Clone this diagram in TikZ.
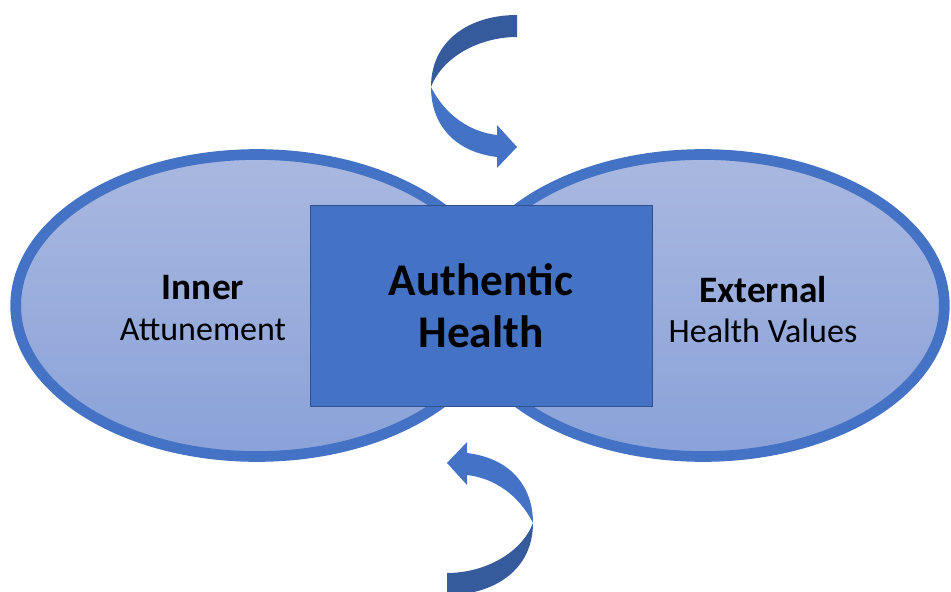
\documentclass[tikz,border=0pt]{standalone}
\usepackage{fontspec}
\setmainfont{Carlito}
\usetikzlibrary{shapes.geometric}
\definecolor{accent}{HTML}{4472C4}
\definecolor{accentdark}{HTML}{365B9D}
\definecolor{coreline}{HTML}{2F528F}
\definecolor{lobetop}{HTML}{A9B8E0}
\definecolor{lobebot}{HTML}{8AA2D9}
\begin{document}
\begin{tikzpicture}[x=0.75pt,y=-0.75pt]
\tikzset{lobe/.style={ellipse, draw=accent, line width=8pt, top color=lobetop, bottom color=lobebot, minimum width=362pt, minimum height=226.5pt, inner sep=0pt},
  core/.style={rectangle, draw=coreline, line width=0.75pt, fill=accent, minimum width=256.5pt, minimum height=150.75pt, align=center, font=\bfseries\fontsize{34}{39}\selectfont},
  title/.style={anchor=base, font=\bfseries\fontsize{28}{33}\selectfont},
  sub/.style={anchor=base, font=\fontsize{25.5}{30}\selectfont},
  turnarrow/.pic={
    \fill[accentdark] (431,87) .. controls (431,40) and (470,15) .. (517,15) -- (517,37) .. controls (478,37) and (442,58) .. (431,87) -- cycle;
    \fill[accent] (431,87) .. controls (445,115) and (470,132) .. (497,135) -- (497,125) -- (517,147) -- (497,168) -- (497,157) .. controls (455,152) and (431,125) .. (431,87) -- cycle;
  }}
\useasboundingbox (0,0) rectangle (951,592);
\node[lobe] (L) at (257,305.5) {};
\node[lobe] (R) at (703,305.5) {};
\node[core] (C) at (481,306) {Authentic\\Health};
\node[title] (In) at (203,299) {Inner};
\node[sub] (At) at (203,340) {Attunement};
\node[title] (Ex) at (763,302) {External};
\node[sub] (Hv) at (763,342) {Health Values};
\pic at (0,0) {turnarrow};
\pic[rotate=180] at (964,610) {turnarrow};
\end{tikzpicture}
\end{document}
